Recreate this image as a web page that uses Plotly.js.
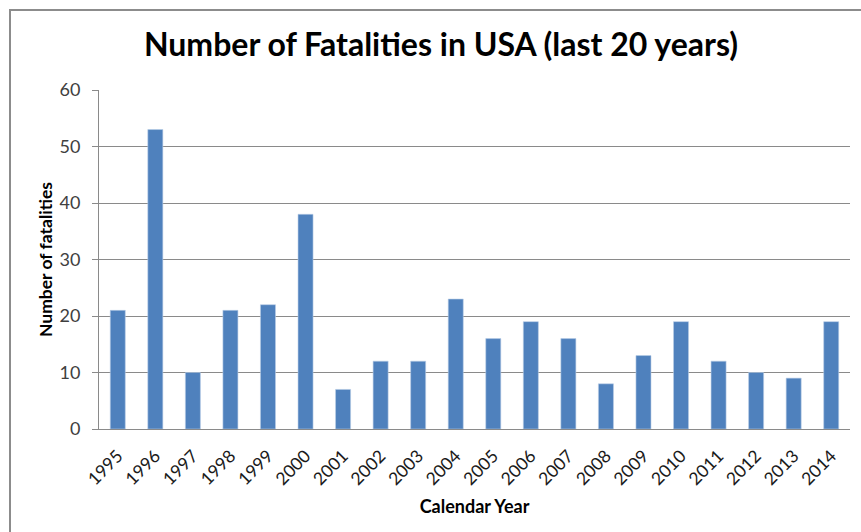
<!DOCTYPE html>
<html>
<head>
<meta charset="utf-8">
<script src="https://cdn.plot.ly/plotly-3.0.1.min.js"></script>
<style>
  html, body { margin: 0; padding: 0; background: #ffffff; overflow: hidden; }
  #wrap { position: relative; width: 861px; height: 532px; }
  #chart { position: absolute; left: 0; top: 0; width: 861px; height: 532px; }
  /* chart-area frame, open towards the right and bottom edges */
  #frame {
    position: absolute; left: 9px; top: 9px; width: 870px; height: 540px;
    border-left: 2px solid #8c8c8c; border-top: 2px solid #8c8c8c;
    pointer-events: none; box-sizing: border-box;
  }
</style>
</head>
<body>
<div id="wrap">
  <div id="chart"></div>
  <div id="frame"></div>
</div>
<script>
// Calendar years on the category axis
const years = ['1995', '1996', '1997', '1998', '1999', '2000', '2001', '2002', '2003', '2004',
               '2005', '2006', '2007', '2008', '2009', '2010', '2011', '2012', '2013', '2014'];

// Fatalities recorded per year
const fatalities = [21, 53, 10, 21, 22, 38, 7, 12, 12, 23,
                    16, 19, 16, 8, 13, 19, 12, 10, 9, 19];

// Value-axis ticks
const yTicks = [0, 10, 20, 30, 40, 50, 60];

const FONT = 'Lato, Carlito, Calibri, "Open Sans", sans-serif';
const GRID = '#8a8a8a';

const trace = {
  type: 'bar',
  x: years,
  y: fatalities,
  marker: { color: '#4f81bd', line: { color: '#b9cde5', width: 0.6 } },
  hoverinfo: 'x+y'
};

const layout = {
  width: 861,
  height: 532,
  margin: { l: 99, r: 11, t: 89.5, b: 102.7, pad: 0 },
  paper_bgcolor: 'rgba(0,0,0,0)',
  plot_bgcolor: '#ffffff',
  showlegend: false,
  bargap: 0.6,
  font: { family: FONT, color: '#404040', size: 17 },
  title: {
    text: 'Number of Fatalities in USA (last 20 years)',
    font: { family: FONT, size: 32, color: '#000000', weight: 'bold' },
    xref: 'container', x: 441 / 861, xanchor: 'center',
    yref: 'container', y: 1 - 45 / 532, yanchor: 'middle'
  },
  xaxis: {
    type: 'category',
    tickangle: -45,
    ticks: '',
    ticklabelstandoff: 9,
    showline: true,
    linecolor: GRID,
    linewidth: 1,
    showgrid: false,
    tickfont: { family: FONT, size: 17.5, color: '#1a1a1a' },
    automargin: false,
    title: {
      text: 'Calendar Year',
      font: { family: FONT, size: 18, color: '#000000', weight: 'bold' },
      standoff: 12
    }
  },
  yaxis: {
    range: [0, 60],
    tickvals: yTicks,
    ticktext: yTicks.map(String),
    ticks: 'outside',
    ticklen: 6,
    tickcolor: GRID,
    tickwidth: 1,
    ticklabelstandoff: 8,
    showline: true,
    linecolor: GRID,
    linewidth: 1,
    showgrid: true,
    gridcolor: GRID,
    gridwidth: 1,
    zeroline: false,
    tickfont: { family: FONT, size: 18, color: '#404040' },
    automargin: false,
    title: {
      text: 'Number of fatalities',
      font: { family: FONT, size: 17.5, color: '#000000', weight: 'bold' },
      standoff: 2
    }
  }
};

Plotly.newPlot('chart', [trace], layout, { displayModeBar: false, staticPlot: true });
</script>
</body>
</html>
